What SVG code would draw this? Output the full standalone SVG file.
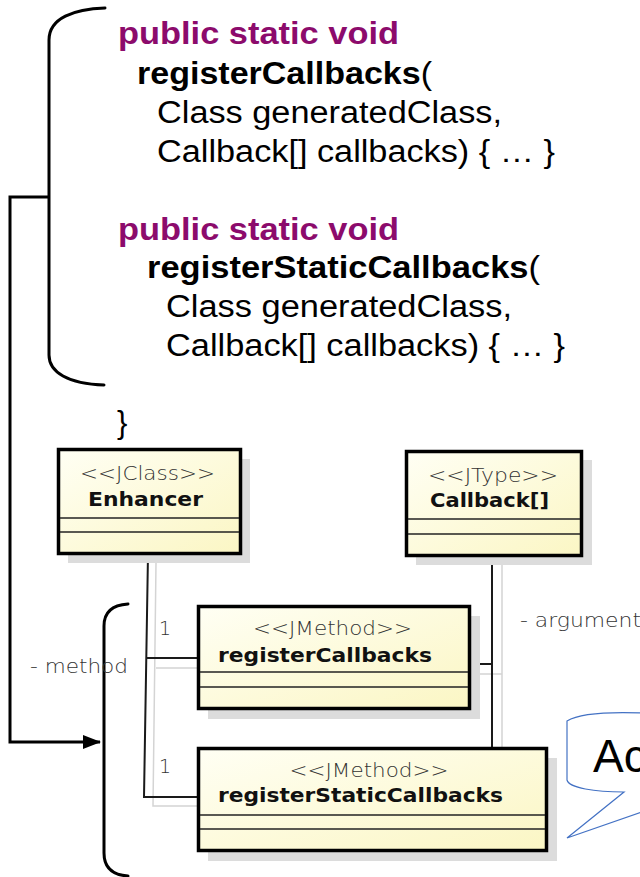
<svg xmlns="http://www.w3.org/2000/svg" width="640" height="877" viewBox="0 0 640 877">
  <defs>
    <linearGradient id="boxFill" x1="0" y1="0" x2="1" y2="1">
      <stop offset="0" stop-color="#fffff4"/>
      <stop offset="1" stop-color="#fbf6c4"/>
    </linearGradient>
    <marker id="arrow" viewBox="0 0 18 14" refX="17" refY="7" markerWidth="18" markerHeight="14" markerUnits="userSpaceOnUse" orient="auto">
      <path d="M0,0 L18,7 L0,14 Z" fill="#000"/>
    </marker>
  </defs>
  <style>
    .code { font-family: "Liberation Sans", Arial, sans-serif; font-size: 31px; fill: #000; }
    .kw { fill: #8c0b6c; font-weight: bold; }
    .b { font-weight: bold; }
    .brace { fill: none; stroke: #000; stroke-width: 3; stroke-linecap: round; }
    .shadow { fill: #dcdcdc; }
    .box { fill: url(#boxFill); stroke: #000; stroke-width: 3.5; }
    .sep { stroke: #222; stroke-width: 1.6; }
    .stereo { font-family: "DejaVu Sans", sans-serif; font-weight: 200; font-size: 19px; fill: #333; }
    .name { font-family: "DejaVu Sans", sans-serif; font-weight: bold; font-size: 19px; fill: #111; }
    .lbl { font-family: "DejaVu Sans", sans-serif; font-weight: 200; font-size: 19px; fill: #333; }
    .link { fill: none; stroke: #1a1a1a; stroke-width: 2; }
    .ghost { fill: none; stroke: #d4d4d4; stroke-width: 1.5; }
  </style>

  <!-- source code listing -->
  <g id="code">
    <text class="code kw" x="118" y="44" textLength="281" lengthAdjust="spacingAndGlyphs">public static void</text>
    <text class="code" x="137" y="83.5" textLength="295" lengthAdjust="spacingAndGlyphs"><tspan class="b">registerCallbacks</tspan>(</text>
    <text class="code" x="157" y="123" textLength="345" lengthAdjust="spacingAndGlyphs">Class generatedClass,</text>
    <text class="code" x="157" y="162" textLength="398" lengthAdjust="spacingAndGlyphs">Callback[] callbacks) { … }</text>
    <text class="code kw" x="118" y="240" textLength="281" lengthAdjust="spacingAndGlyphs">public static void</text>
    <text class="code" x="147" y="278" textLength="393" lengthAdjust="spacingAndGlyphs"><tspan class="b">registerStaticCallbacks</tspan>(</text>
    <text class="code" x="166" y="317" textLength="346" lengthAdjust="spacingAndGlyphs">Class generatedClass,</text>
    <text class="code" x="166" y="356" textLength="399" lengthAdjust="spacingAndGlyphs">Callback[] callbacks) { … }</text>
    <text class="code" x="117" y="433">}</text>
  </g>

  <!-- brace around the two methods and its pointer down to the model -->
  <g id="codeBrace">
    <path class="brace" d="M105,8 C74,9 49,18 49,40 L49,355 C49,372 68,384 104,385"/>
  </g>
  <g id="methodBrace">
    <path class="brace" d="M128,604 C112,605 104,612 104,626 L104,853 C104,867 112,875 128,876"/>
  </g>

  <!-- connectors -->
  <g id="connectors">
    <path d="M49,197 H10 V742 H100" fill="none" stroke="#000" stroke-width="3" marker-end="url(#arrow)"/>
    <!-- Enhancer to its methods -->
    <path class="ghost" d="M156,563 L153,806 H210 M156,668 H210"/>
    <path class="link" d="M148,554 L144,797 H198 M146,658 H198"/>
    <!-- Callback[] argument -->
    <path class="ghost" d="M502,563 V758 M474,674 H502"/>
    <path class="link" d="M492,556 V748 M470,664 H492"/>
    <text class="lbl" x="159" y="635">1</text>
    <text class="lbl" x="159" y="773">1</text>
    <text class="lbl" x="30" y="673" textLength="98" lengthAdjust="spacingAndGlyphs">- method</text>
    <text class="lbl" x="520" y="627" textLength="121" lengthAdjust="spacingAndGlyphs">- argument</text>
  </g>

  <!-- UML classes -->
  <g id="enhancer">
    <rect class="shadow" x="68" y="459" width="182" height="104"/>
    <rect class="box" x="58.5" y="449.5" width="182" height="104"/>
    <line class="sep" x1="60" y1="518" x2="239" y2="518"/>
    <line class="sep" x1="60" y1="532" x2="239" y2="532"/>
    <text class="stereo" x="147.5" y="480" text-anchor="middle" textLength="135" lengthAdjust="spacingAndGlyphs">&lt;&lt;JClass&gt;&gt;</text>
    <text class="name" x="145.5" y="506" text-anchor="middle" textLength="115" lengthAdjust="spacingAndGlyphs">Enhancer</text>
  </g>

  <g id="callbackArray">
    <rect class="shadow" x="416" y="460" width="176" height="105"/>
    <rect class="box" x="406.5" y="451.5" width="175" height="104"/>
    <line class="sep" x1="408" y1="519" x2="580" y2="519"/>
    <line class="sep" x1="408" y1="534" x2="580" y2="534"/>
    <text class="stereo" x="493" y="482" text-anchor="middle" textLength="130" lengthAdjust="spacingAndGlyphs">&lt;&lt;JType&gt;&gt;</text>
    <text class="name" x="489.5" y="507" text-anchor="middle" textLength="119" lengthAdjust="spacingAndGlyphs">Callback[]</text>
  </g>

  <g id="registerCallbacks">
    <rect class="shadow" x="208" y="616" width="272" height="103"/>
    <rect class="box" x="198.5" y="606.5" width="271" height="102"/>
    <line class="sep" x1="200" y1="672" x2="468" y2="672"/>
    <line class="sep" x1="200" y1="687" x2="468" y2="687"/>
    <text class="stereo" x="332.5" y="635" text-anchor="middle" textLength="159" lengthAdjust="spacingAndGlyphs">&lt;&lt;JMethod&gt;&gt;</text>
    <text class="name" x="325" y="662" text-anchor="middle" textLength="214" lengthAdjust="spacingAndGlyphs">registerCallbacks</text>
  </g>

  <g id="registerStaticCallbacks">
    <rect class="shadow" x="208" y="758" width="349" height="103"/>
    <rect class="box" x="198.5" y="748.5" width="348" height="102"/>
    <line class="sep" x1="200" y1="815" x2="545" y2="815"/>
    <line class="sep" x1="200" y1="829" x2="545" y2="829"/>
    <text class="stereo" x="369" y="777" text-anchor="middle" textLength="159" lengthAdjust="spacingAndGlyphs">&lt;&lt;JMethod&gt;&gt;</text>
    <text class="name" x="360.5" y="802" text-anchor="middle" textLength="285" lengthAdjust="spacingAndGlyphs">registerStaticCallbacks</text>
  </g>

  <!-- speech bubble -->
  <g id="callout">
    <path d="M642,713 C615,712 580,713 567,721 L567,780 C569,788 595,792 624,792 L567,838 L642,812 Z" fill="#fff" stroke="#4472c4" stroke-width="1.2"/>
    <text x="593" y="772" font-family="Liberation Sans, Arial, sans-serif" font-size="46" fill="#000">Ac</text>
  </g>
</svg>
